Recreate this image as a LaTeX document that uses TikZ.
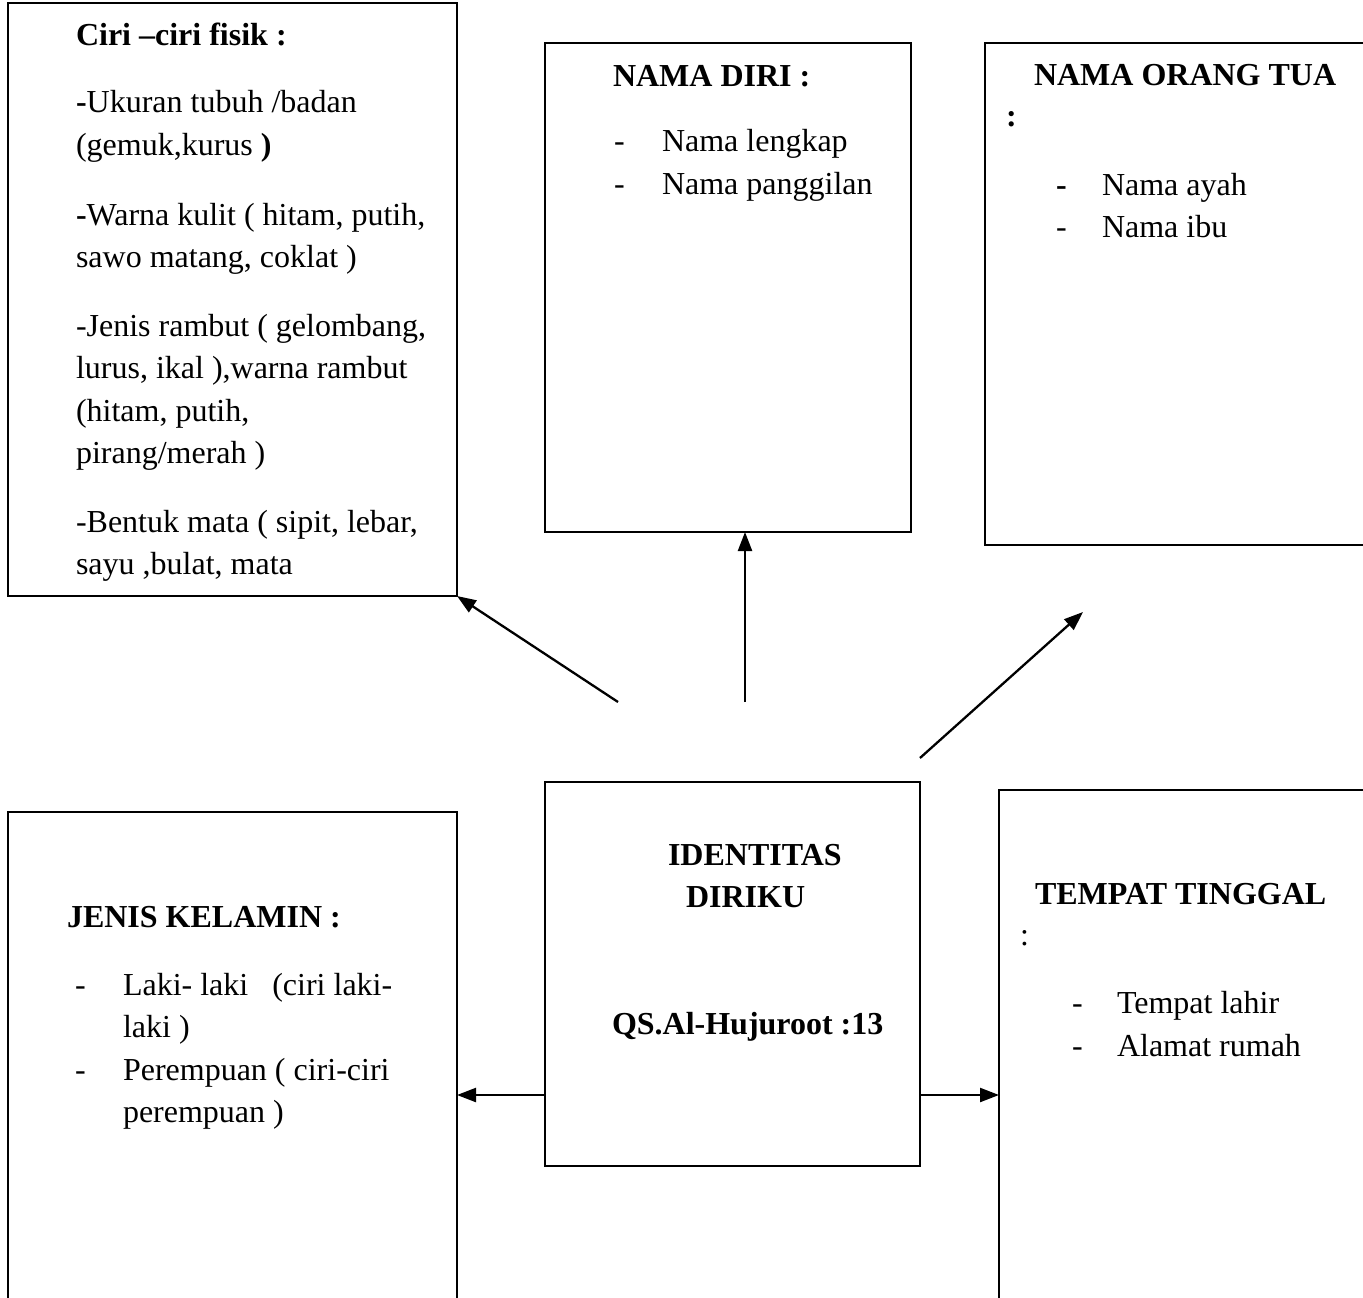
\documentclass[tikz,border=0pt]{standalone}
\usepackage{fontspec}
\setmainfont{Liberation Serif}
\usetikzlibrary{arrows.meta}
\tikzset{
  boxnode/.style={draw=black, line width=1.5pt, inner sep=0pt, outer sep=0pt, anchor=north west},
  txt/.style={anchor=base west, inner sep=0pt, outer sep=0pt, font=\fontsize{32}{42}\selectfont},
  btxt/.style={txt, font=\fontsize{32}{42}\selectfont\bfseries},
  conn/.style={line width=2.3pt, -{Triangle[length=19pt,width=14pt]}}
}
\begin{document}
\begin{tikzpicture}[x=1pt,y=-1pt]
\useasboundingbox (0,0) rectangle (1363,1298);
\clip (0,0) rectangle (1363,1298);
\fill[white] (0,0) rectangle (1363,1298);
% boxes
\node[boxnode, minimum width=449pt, minimum height=593pt] (A) at (8,3) {};
\node[boxnode, minimum width=366pt, minimum height=489pt] (B) at (545,43) {};
\node[boxnode, minimum width=400pt, minimum height=502pt] (C) at (985,43) {};
\node[boxnode, minimum width=375pt, minimum height=384pt] (id) at (545,782) {};
\node[boxnode, minimum width=449pt, minimum height=520pt] (D) at (8,812) {};
\node[boxnode, minimum width=400pt, minimum height=540pt] (E) at (999,790) {};
% box A text
\node[btxt] (a0) at (76,46) {Ciri –ciri fisik :};
\node[txt] (a1) at (76,113) {\textbf{-}Ukuran tubuh /badan};
\node[txt] (a2) at (76,155) {(gemuk,kurus \textbf{)}};
\node[txt] (a3) at (76,225) {\textbf{-}Warna kulit ( hitam, putih,};
\node[txt] (a4) at (76,267) {sawo matang, coklat )};
\node[txt] (a5) at (76,336) {-Jenis rambut ( gelombang,};
\node[txt] (a6) at (76,378) {lurus, ikal ),warna rambut};
\node[txt] (a7) at (76,421) {(hitam, putih,};
\node[txt] (a8) at (76,463) {pirang/merah )};
\node[txt] (a9) at (76,532) {-Bentuk mata ( sipit, lebar,};
\node[txt] (a10) at (76,574) {sayu ,bulat, mata};
% box B text
\node[btxt] (b0) at (613,87) {NAMA DIRI :};
\node[txt] (b1d) at (614,151) {-};
\node[txt] (b1) at (662,151) {Nama lengkap};
\node[txt] (b2d) at (614,194) {-};
\node[txt] (b2) at (662,194) {Nama panggilan};
% box C text
\node[btxt] (c0) at (1034,85) {NAMA ORANG TUA};
\node[btxt] (c0c) at (1006,126) {:};
\node[btxt] (c1d) at (1056,195) {-};
\node[txt] (c1) at (1102,195) {Nama ayah};
\node[txt] (c2d) at (1056,237) {-};
\node[txt] (c2) at (1102,237) {Nama ibu};
% centre text
\node[btxt] (i1) at (668,865) {IDENTITAS};
\node[btxt] (i2) at (686,907) {DIRIKU};
\node[btxt] (i3) at (612,1034) {QS.Al-Hujuroot :13};
% box D text
\node[btxt] (d0) at (67,927) {JENIS KELAMIN :};
\node[txt] (d1d) at (75,995) {-};
\node[txt] (d1) at (123,995) {Laki- laki\ \ \ (ciri laki-};
\node[txt] (d2) at (123,1037) {laki )};
\node[txt] (d3d) at (75,1080) {-};
\node[txt] (d3) at (123,1080) {Perempuan ( ciri-ciri};
\node[txt] (d4) at (123,1122) {perempuan )};
% box E text
\node[btxt] (e0) at (1035,904) {TEMPAT TINGGAL};
\node[txt] (e0c) at (1020,945) {:};
\node[txt] (e1d) at (1072,1013) {-};
\node[txt] (e1) at (1117,1013) {Tempat lahir};
\node[txt] (e2d) at (1072,1056) {-};
\node[txt] (e2) at (1117,1056) {Alamat rumah};
% connectors
\coordinate (s1) at (618,702);
\coordinate (s2) at (745,702);
\coordinate (s3) at (920,758);
\coordinate (t3) at (1083,612);
\coordinate (h) at (0,1095);
\draw[conn] (s1) -- (A.south east);
\draw[conn] (s2) -- (s2 |- B.south);
\draw[conn] (s3) -- (t3);
\draw[conn] (id.west |- h) -- (D.east |- h);
\draw[conn] (id.east |- h) -- (E.west |- h);
\end{tikzpicture}
\end{document}
